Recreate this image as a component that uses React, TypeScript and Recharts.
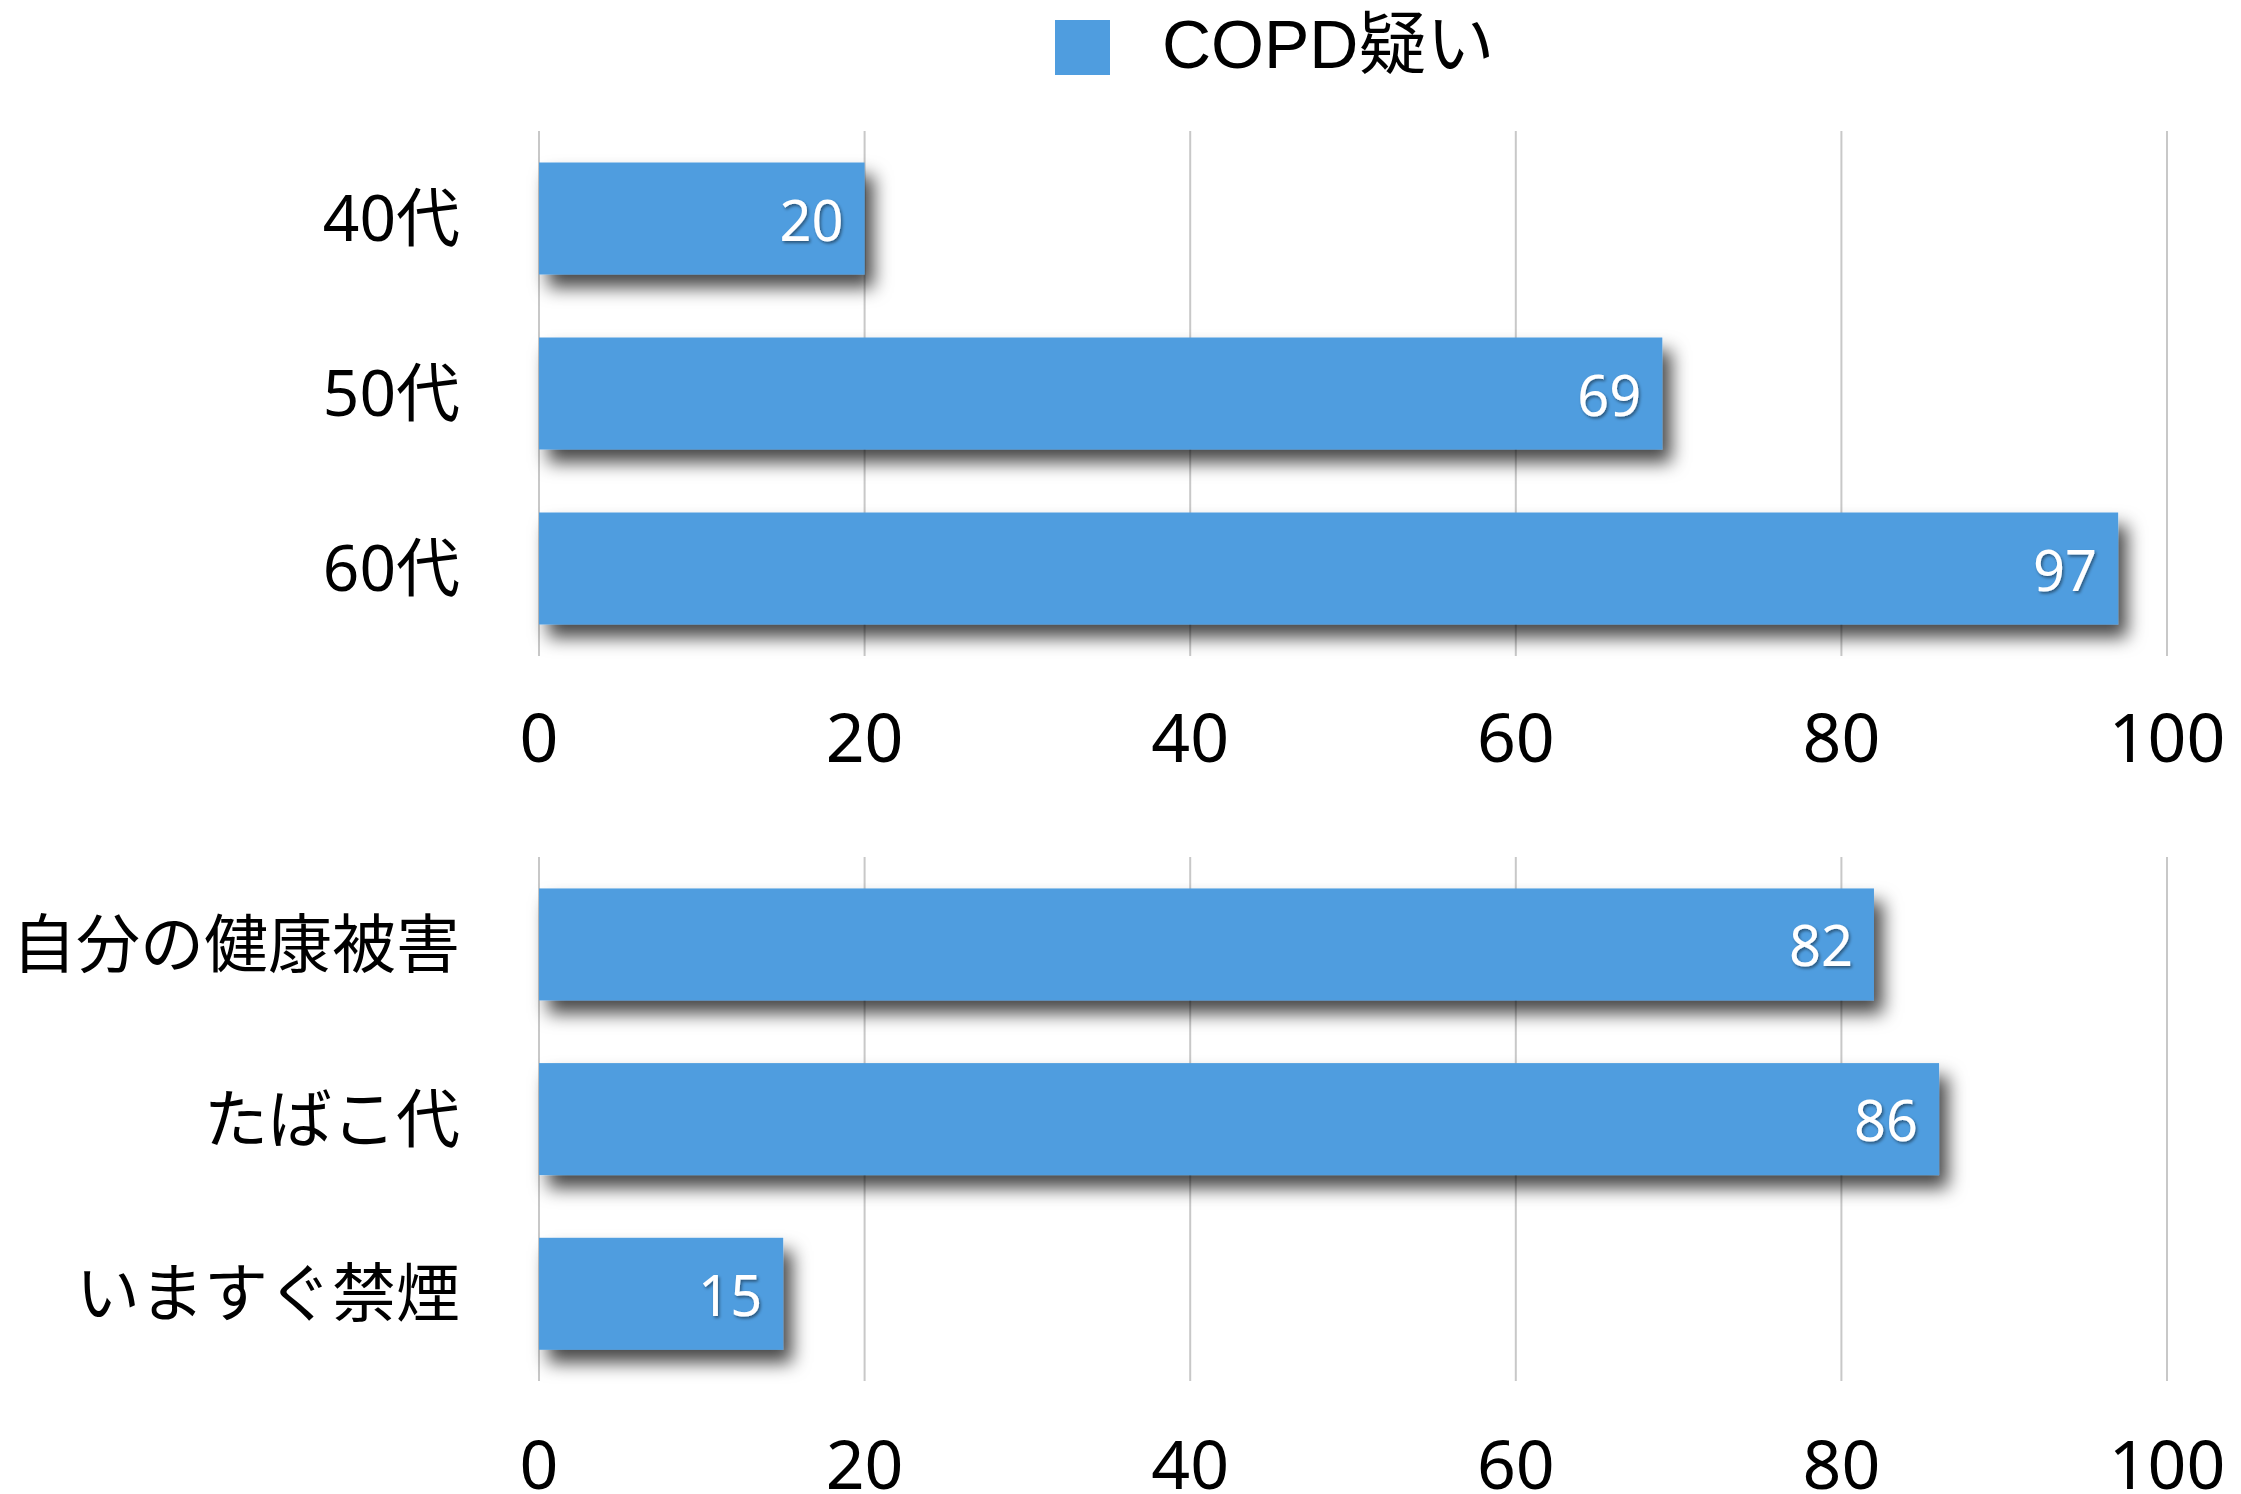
import React from 'react';
import { BarChart, Bar, XAxis, YAxis, CartesianGrid, LabelList, Legend } from 'recharts';

const seriesName = 'COPD疑い';
const ageCategories = ['40代', '50代', '60代'];
const ageValues = [20, 69, 97];
const reasonCategories = ['自分の健康被害', 'たばこ代', 'いますぐ禁煙'];
const reasonValues = [82, 86, 15];
const xTicks = [0, 20, 40, 60, 80, 100];

const BAR_COLOR = '#4F9DDF';
const GRID_COLOR = '#c8c8c8';
const NUM_FONT = '"Noto Sans", "Noto Sans CJK JP", sans-serif';

const toRows = (cats: string[], vals: number[]) =>
  cats.map((name, i) => ({ name, value: vals[i] }));

const LegendBox = () => (
  <div style={{ display: 'flex', alignItems: 'center', height: 94 }}>
    <div style={{ width: 55, height: 55, background: BAR_COLOR }} />
    <span
      style={{
        marginLeft: 52,
        fontSize: 68,
        fontFamily: '"Liberation Sans", "Noto Sans CJK JP", sans-serif',
        color: '#000',
        whiteSpace: 'nowrap',
        position: 'relative',
        top: -9,
      }}
    >
      {seriesName}
    </span>
  </div>
);

const Shadows = ({ id }: { id: string }) => (
  <defs>
    <filter id={`bar-${id}`} x="-10%" y="-40%" width="130%" height="220%">
      <feDropShadow dx="9" dy="13" stdDeviation="9" floodColor="#000" floodOpacity="0.72" />
    </filter>
    <filter id={`txt-${id}`} x="-20%" y="-30%" width="150%" height="170%">
      <feDropShadow dx="1.5" dy="2" stdDeviation="1.5" floodColor="#000" floodOpacity="0.45" />
    </filter>
  </defs>
);

const makeShape = (id: string) => (props: any) => {
  const { x, y, width, height } = props;
  return <rect x={x} y={y} width={width} height={height} fill={BAR_COLOR} filter={`url(#bar-${id})`} />;
};

const makeLabel = (id: string) => (props: any) => {
  const { x, y, width, height, value } = props;
  return (
    <text
      x={x + width - 21}
      y={y + height / 2}
      textAnchor="end"
      dominantBaseline="central"
      fill="#fff"
      fontSize={56}
      fontFamily={NUM_FONT}
      filter={`url(#txt-${id})`}
    >
      {value}
    </text>
  );
};

interface PanelProps {
  id: string;
  cats: string[];
  vals: number[];
  height: number;
  top: number;
  bottom: number;
  tickGap: number;
  withLegend?: boolean;
}

const Panel = ({ id, cats, vals, height, top, bottom, tickGap, withLegend }: PanelProps) => (
  <BarChart
    width={2241}
    height={height}
    data={toRows(cats, vals)}
    layout="vertical"
    margin={{ top, right: 74, bottom, left: 0 }}
    barCategoryGap="18%"
    style={{ overflow: 'visible' }}
  >
    <Shadows id={id} />
    <CartesianGrid horizontal={false} stroke={GRID_COLOR} strokeWidth={2} />
    <XAxis
      type="number"
      domain={[0, 100]}
      ticks={xTicks}
      axisLine={false}
      tickLine={false}
      tickSize={0}
      tickMargin={tickGap}
      height={120}
      tick={{ fontSize: 68, fill: '#000', fontFamily: NUM_FONT }}
    />
    <YAxis
      type="category"
      dataKey="name"
      width={539}
      axisLine={false}
      tickLine={false}
      tickSize={0}
      tickMargin={79}
      tick={{ fontSize: 64, fill: '#000', fontFamily: NUM_FONT }}
    />
    {withLegend && (
      <Legend
        layout="horizontal"
        verticalAlign="middle"
        align="center"
        wrapperStyle={{ top: 0, left: 1055, width: 600, height: 94 }}
        content={() => <LegendBox />}
      />
    )}
    <Bar dataKey="value" name={seriesName} fill={BAR_COLOR} shape={makeShape(id)} isAnimationActive={false}>
      <LabelList dataKey="value" content={makeLabel(id)} />
    </Bar>
  </BarChart>
);

export default function App() {
  return (
    <div style={{ position: 'absolute', left: 0, top: 0, width: 2241, height: 1494, background: '#fff', overflow: 'hidden' }}>
      <Panel id="a" cats={ageCategories} vals={ageValues} height={800} top={131} bottom={24} tickGap={58} withLegend />
      <Panel id="b" cats={reasonCategories} vals={reasonValues} height={720} top={57} bottom={19} tickGap={60} />
    </div>
  );
}
